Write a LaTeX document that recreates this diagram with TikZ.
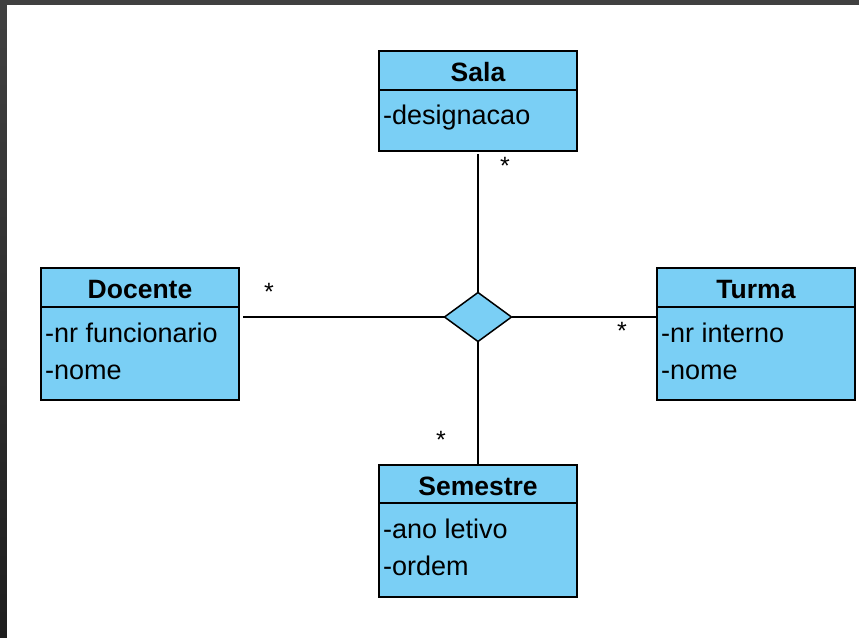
\documentclass[tikz,border=0pt]{standalone}
\usepackage{fontspec}
\setmainfont{Liberation Sans}
\usetikzlibrary{shapes.geometric}
\definecolor{umlblue}{RGB}{122,207,245}
\definecolor{frametop}{RGB}{64,64,64}
\definecolor{framebot}{RGB}{30,30,30}
\begin{document}
\begin{tikzpicture}[x=1pt,y=-1pt,
  classbox/.style={draw=black, line width=1.5pt, fill=umlblue, minimum width=198pt,
    inner sep=0pt, outer sep=0pt, anchor=north west},
  divider/.style={draw=black, line width=1.5pt},
  ctitle/.style={font=\fontsize{26.5}{30}\selectfont\bfseries, anchor=base, inner sep=0pt},
  attr/.style={font=\fontsize{27}{30}\selectfont, anchor=base west, inner sep=0pt},
  mult/.style={font=\fontsize{25}{30}\selectfont, inner sep=0pt},
  conn/.style={draw=black, line width=1.4pt},
  assocdia/.style={diamond, draw=black, line width=1.5pt, fill=umlblue, inner sep=0pt,
    outer sep=0pt, minimum width=67pt, minimum height=49pt}
]
\useasboundingbox (0,0) rectangle (859,637);
\fill[frametop] (-3,-3) rectangle (862,5);
\shade[top color=frametop, bottom color=framebot] (-3,0) rectangle (7,640);
\fill[white] (7,5) rectangle (862,640);

% Sala
\node[classbox, minimum height=100pt] (sala) at (379,51) {};
\draw[divider] ([yshift=-39pt]sala.north west) -- ([yshift=-39pt]sala.north east);
\node[ctitle] (salat) at ([yshift=-30pt]sala.north) {Sala};
\node[attr] (salaa1) at ([xshift=4pt,yshift=-73pt]sala.north west) {-designacao};

% Docente
\node[classbox, minimum height=132pt] (docente) at (41,268) {};
\draw[divider] ([yshift=-39pt]docente.north west) -- ([yshift=-39pt]docente.north east);
\node[ctitle] (docentet) at ([yshift=-30pt]docente.north) {Docente};
\node[attr] (docentea1) at ([xshift=4pt,yshift=-74pt]docente.north west) {-nr funcionario};
\node[attr] (docentea2) at ([xshift=4pt,yshift=-111pt]docente.north west) {-nome};

% Turma
\node[classbox, minimum height=132pt] (turma) at (657,268) {};
\draw[divider] ([yshift=-39pt]turma.north west) -- ([yshift=-39pt]turma.north east);
\node[ctitle] (turmat) at ([yshift=-30pt]turma.north) {Turma};
\node[attr] (turmaa1) at ([xshift=4pt,yshift=-74pt]turma.north west) {-nr interno};
\node[attr] (turmaa2) at ([xshift=4pt,yshift=-111pt]turma.north west) {-nome};

% Semestre
\node[classbox, minimum height=132pt] (semestre) at (379,465) {};
\draw[divider] ([yshift=-38pt]semestre.north west) -- ([yshift=-38pt]semestre.north east);
\node[ctitle] (semestret) at ([yshift=-30pt]semestre.north) {Semestre};
\node[attr] (semestrea1) at ([xshift=4pt,yshift=-73pt]semestre.north west) {-ano letivo};
\node[attr] (semestrea2) at ([xshift=4pt,yshift=-110pt]semestre.north west) {-ordem};

% association diamond
\node[assocdia] (assoc) at (478,317) {};

% connectors
\draw[conn] ([yshift=-3pt]sala.south) -- (assoc.north);
\draw[conn] (assoc.south) -- (semestre.north);
\draw[conn] ([xshift=4pt]docente.east |- assoc.west) -- (assoc.west);
\draw[conn] (assoc.east) -- (assoc.east -| turma.west);

% multiplicities
\node[mult] (msala) at (505,166) {*};
\node[mult] (mdoc) at (269,292) {*};
\node[mult] (mturma) at (622,331) {*};
\node[mult] (msem) at (441,440) {*};
\end{tikzpicture}
\end{document}
